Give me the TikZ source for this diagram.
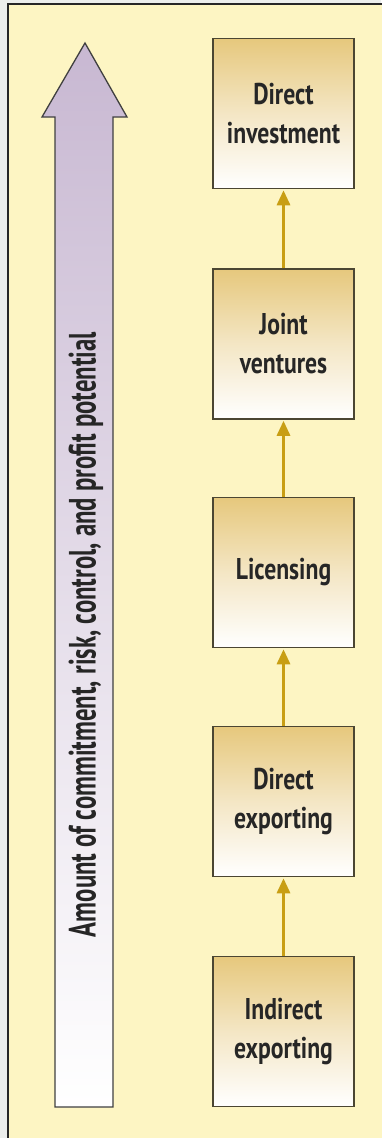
\documentclass[tikz,border=0pt]{standalone}
\usepackage{fontspec}
\newfontfamily\condfont{PT Sans}[FakeStretch=0.79]
\newfontfamily\axisfont{PT Sans}[FakeStretch=0.65]
\definecolor{pagegray}{RGB}{236,238,236}
\definecolor{paneyellow}{RGB}{253,245,195}
\definecolor{boxtop}{RGB}{230,200,125}
\definecolor{boxedge}{RGB}{75,70,50}
\definecolor{lav}{RGB}{200,184,210}
\definecolor{goldline}{RGB}{200,158,20}
\usetikzlibrary{arrows.meta}
\tikzset{
  stagebox/.style={draw=boxedge, line width=1.5pt, minimum width=141pt, minimum height=150pt,
    top color=boxtop, bottom color=white, middle color=boxtop!45!white, shading angle=0,
    align=center, inner sep=0pt, font=\condfont\bfseries\fontsize{30}{39}\selectfont, text=black!85},
  conn/.style={draw=goldline, line width=3pt, -{Triangle[length=15pt,width=13pt]}, shorten >=1pt},
}
\begin{document}
\begin{tikzpicture}[x=1pt,y=-1pt]
\useasboundingbox (0,0) rectangle (381,1138);
\fill[pagegray] (0,0) rectangle (381,1138);
\draw[line width=2pt, draw=black!85, fill=paneyellow] (8,4) rectangle (395,1150);
% big arrow
\draw[line width=1.3pt, draw=black!75, top color=lav, bottom color=white, middle color=lav!50!white]
  (55,1107) -- (55,117) -- (42,117) -- (85,43) -- (127,117) -- (113,117) -- (113,1107) -- cycle;
\node[rotate=90, inner sep=0pt, font=\axisfont\bfseries\fontsize{38}{40}\selectfont, text=black!85] (axis) at (86,634.5)
  {Amount of commitment, risk, control, and profit potential};
% stages
\node[stagebox] (di) at (283.5,113.5) {Direct\\investment};
\node[stagebox] (jv) at (283.5,344) {Joint\\ventures};
\node[stagebox] (li) at (283.5,572.5) {Licensing};
\node[stagebox] (dx) at (283.5,801.5) {Direct\\exporting};
\node[stagebox] (ix) at (283.5,1031.5) {Indirect\\exporting};
\draw[conn] (ix.north) -- (dx.south);
\draw[conn] (dx.north) -- (li.south);
\draw[conn] (li.north) -- (jv.south);
\draw[conn] (jv.north) -- (di.south);
\end{tikzpicture}
\end{document}
